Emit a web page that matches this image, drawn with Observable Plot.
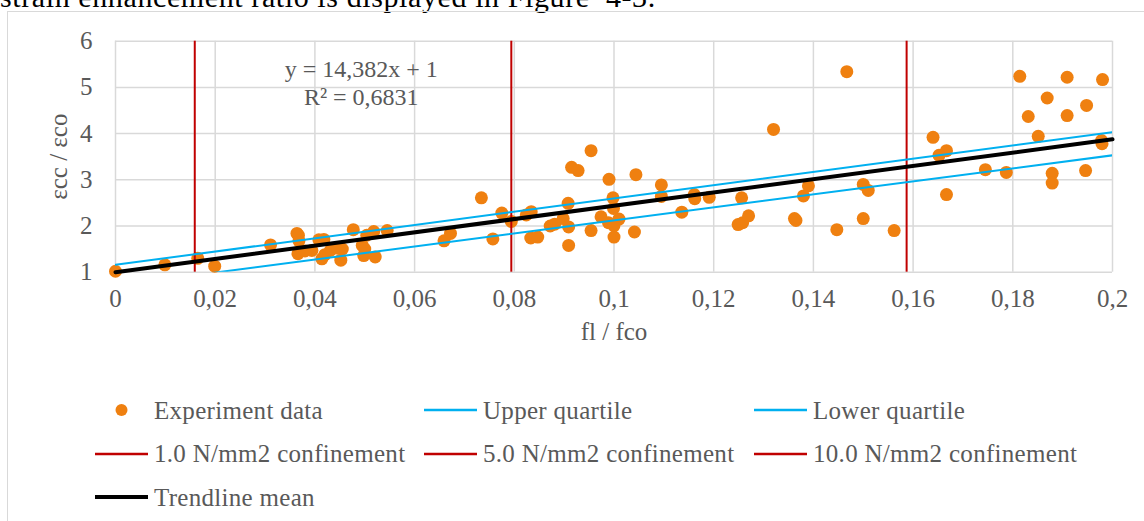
<!DOCTYPE html>
<html>
<head>
<meta charset="utf-8">
<script src="https://cdn.jsdelivr.net/npm/d3@7"></script>
<script src="https://cdn.jsdelivr.net/npm/@observablehq/plot@0.6"></script>
<style>
  html, body { margin: 0; padding: 0; background: #fff; overflow: hidden; }
  #page { position: relative; width: 1144px; height: 521px; overflow: hidden; font-family: "Liberation Serif", serif; }
  #intro { position: absolute; left: 0; top: -18px; font-size: 30px; line-height: 30px; letter-spacing: 0.6px; white-space: pre; color: #000; }
  #box { position: absolute; left: 7px; top: 11px; width: 1160px; height: 540px; border: 1px solid #d9d9d9; box-sizing: border-box; }
  #chart { position: absolute; left: 0; top: 0; }
  .item { position: absolute; height: 25px; display: flex; align-items: center; font-size: 25px; line-height: 25px; color: #595959; white-space: pre; letter-spacing: 0.3px; }
  .item svg { margin-right: 6px; flex: none; }
  g[aria-label="axis title"] text { letter-spacing: 1.2px; }
</style>
</head>
<body>
<div id="page">
  <div id="intro">strain enhancement ratio is displayed in Figure  4-3.</div>
  <div id="box"></div>
  <div id="chart"></div>
  <div id="legend"></div>
</div>
<script>
// Experiment data: confinement ratio fl/fco and strain enhancement εcc/εco
const expX = [
  0, 0.0099, 0.0165, 0.0199, 0.0311, 0.0364, 0.0367, 0.0368, 0.0366, 0.0380,
  0.0394, 0.0408, 0.0418, 0.0414, 0.0420, 0.0431, 0.0446, 0.0452, 0.0455, 0.0477,
  0.0495, 0.0498, 0.0500, 0.0504, 0.0518, 0.0521, 0.0545, 0.0659, 0.0672, 0.0734,
  0.0757, 0.0775, 0.0794, 0.0824, 0.0834, 0.0833, 0.0847, 0.0872, 0.0881, 0.0898,
  0.0908, 0.0909, 0.0909, 0.0915, 0.0928, 0.0954, 0.0954, 0.0974, 0.0990, 0.0998,
  0.0999, 0.0989, 0.1000, 0.1010, 0.1000, 0.1044, 0.1041, 0.1095, 0.1095, 0.1136,
  0.1161, 0.1162, 0.1191, 0.1256, 0.1249, 0.1258, 0.1270, 0.1320, 0.1362, 0.1365,
  0.1380, 0.1390, 0.1447, 0.1467, 0.1500, 0.1510, 0.1500, 0.1562, 0.1640, 0.1652,
  0.1667, 0.1667, 0.1745, 0.1787, 0.1814, 0.1831, 0.1851, 0.1869, 0.1879, 0.1879,
  0.1909, 0.1909, 0.1948, 0.1946, 0.1980, 0.1978, 0.1979
];
const expY = [
  1.02, 1.16, 1.30, 1.13, 1.59, 1.84, 1.80, 1.68, 1.40, 1.46,
  1.47, 1.70, 1.71, 1.29, 1.38, 1.47, 1.52, 1.26, 1.50, 1.92,
  1.58, 1.36, 1.50, 1.80, 1.88, 1.33, 1.90, 1.68, 1.84, 2.61,
  1.72, 2.28, 2.10, 2.24, 2.31, 1.74, 1.76, 2.00, 2.04, 2.16,
  2.49, 1.98, 1.58, 3.27, 3.20, 3.63, 1.90, 2.20, 3.01, 2.61,
  2.38, 2.07, 2.01, 2.15, 1.76, 3.11, 1.87, 2.89, 2.64, 2.30,
  2.68, 2.59, 2.62, 2.61, 2.03, 2.07, 2.22, 4.09, 2.16, 2.12,
  2.65, 2.87, 1.92, 5.34, 2.90, 2.77, 2.16, 1.90, 3.92, 3.53,
  3.63, 2.68, 3.22, 3.16, 5.24, 4.37, 3.94, 4.77, 3.14, 2.93,
  5.22, 4.39, 4.61, 3.20, 5.17, 3.85, 3.78
];

// Quartile bands (fl/fco at both ends, εcc/εco values)
const bandX = [0, 0.2];
const upperY = [1.16, 4.03];
const lowerY = [0.71, 3.53];

// Mean trendline, as stated by its equation label
const trendSlope = 14.382;
const trendIntercept = 1;
const trendR2 = "0,6831";

// Confinement levels 1.0, 5.0 and 10.0 N/mm2 expressed as fl/fco
const confinementX = [0.0159, 0.0794, 0.1587];

// Axis ticks
const xTicks = [0, 0.02, 0.04, 0.06, 0.08, 0.1, 0.12, 0.14, 0.16, 0.18, 0.2];
const yTicks = [1, 2, 3, 4, 5, 6];

// Legend labels
const legendLabels = [
  "Experiment data", "Upper quartile", "Lower quartile",
  "1.0 N/mm2 confinement", "5.0 N/mm2 confinement", "10.0 N/mm2 confinement",
  "Trendline mean"
];

const ORANGE = "#ef8010";
const BLUE = "#00b0f0";
const RED = "#c00000";
const GRID = "#d9d9d9";
const INK = "#595959";

const experiments = expX.map((x, i) => ({x, y: expY[i]}));
const upper = bandX.map((x, i) => ({x, y: upperY[i]}));
const lower = bandX.map((x, i) => ({x, y: lowerY[i]}));
const trend = bandX.map(x => ({x, y: trendIntercept + trendSlope * x}));

const commaFormat = d => String(+d.toFixed(2)).replace(".", ",");
const slopeText = String(trendSlope).replace(".", ",");
const equation = `y = ${slopeText}x + ${trendIntercept}\nR² = ${trendR2}`;

const chart = Plot.plot({
  width: 1144,
  height: 360,
  marginLeft: 115,
  marginRight: 32,
  marginTop: 40.7,
  marginBottom: 88.3,
  x: {domain: [0, 0.2]},
  y: {domain: [1, 6]},
  style: {fontFamily: "'Liberation Serif', serif", fontSize: "25px", color: INK, background: "transparent", overflow: "visible"},
  marks: [
    Plot.gridX(xTicks, {stroke: GRID, strokeOpacity: 1, strokeWidth: 1.5}),
    Plot.gridY(yTicks, {stroke: GRID, strokeOpacity: 1, strokeWidth: 1.5}),
    Plot.axisX(xTicks, {tickSize: 0, tickPadding: 17, tickFormat: commaFormat, label: null, fill: INK}),
    Plot.axisY(yTicks, {tickSize: 0, tickPadding: 23, tickFormat: d => String(d), label: null, fill: INK}),
    Plot.text(["fl / fco"], {frameAnchor: "bottom", dy: 68, fill: INK, ariaLabel: "axis title"}),
    Plot.text(["εcc / εco"], {frameAnchor: "left", textAnchor: "middle", dx: -57, rotate: -90, fill: INK, ariaLabel: "axis title", fontSize: 25}),
    Plot.dot(experiments, {x: "x", y: "y", r: 6.5, fill: ORANGE}),
    Plot.ruleX(confinementX, {stroke: RED, strokeWidth: 2}),
    Plot.line(upper, {x: "x", y: "y", stroke: BLUE, strokeWidth: 2, clip: true}),
    Plot.line(lower, {x: "x", y: "y", stroke: BLUE, strokeWidth: 2, clip: true}),
    Plot.line(trend, {x: "x", y: "y", stroke: "#000", strokeWidth: 4}),
    Plot.text([equation], {x: 0.0493, y: 5.12, lineHeight: 1.17, textAnchor: "middle", fill: INK, fontSize: 24})
  ]
});
document.getElementById("chart").append(chart);

// Legend, laid out in three columns below the chart
const legendCols = [95, 424, 754];
const legendRows = [410, 453.5, 497];
const legendKinds = [
  {type: "dot", color: ORANGE},
  {type: "line", color: BLUE, w: 2.5},
  {type: "line", color: BLUE, w: 2.5},
  {type: "line", color: RED, w: 2.5},
  {type: "line", color: RED, w: 2.5},
  {type: "line", color: RED, w: 2.5},
  {type: "line", color: "#000", w: 4}
];
const legend = d3.select("#legend");
legendLabels.forEach((label, i) => {
  const col = i % 3, row = Math.floor(i / 3);
  const kind = legendKinds[i];
  const item = legend.append("div")
    .attr("class", "item")
    .style("left", legendCols[col] + "px")
    .style("top", (legendRows[row] - 12.5) + "px");
  const sw = item.append("svg").attr("width", 53).attr("height", 14);
  if (kind.type === "dot") {
    sw.append("circle").attr("cx", 26.5).attr("cy", 7).attr("r", 6).attr("fill", kind.color);
  } else {
    sw.append("line").attr("x1", 0).attr("x2", 53).attr("y1", 7).attr("y2", 7)
      .attr("stroke", kind.color).attr("stroke-width", kind.w);
  }
  item.append("span").text(label);
});
</script>
</body>
</html>
